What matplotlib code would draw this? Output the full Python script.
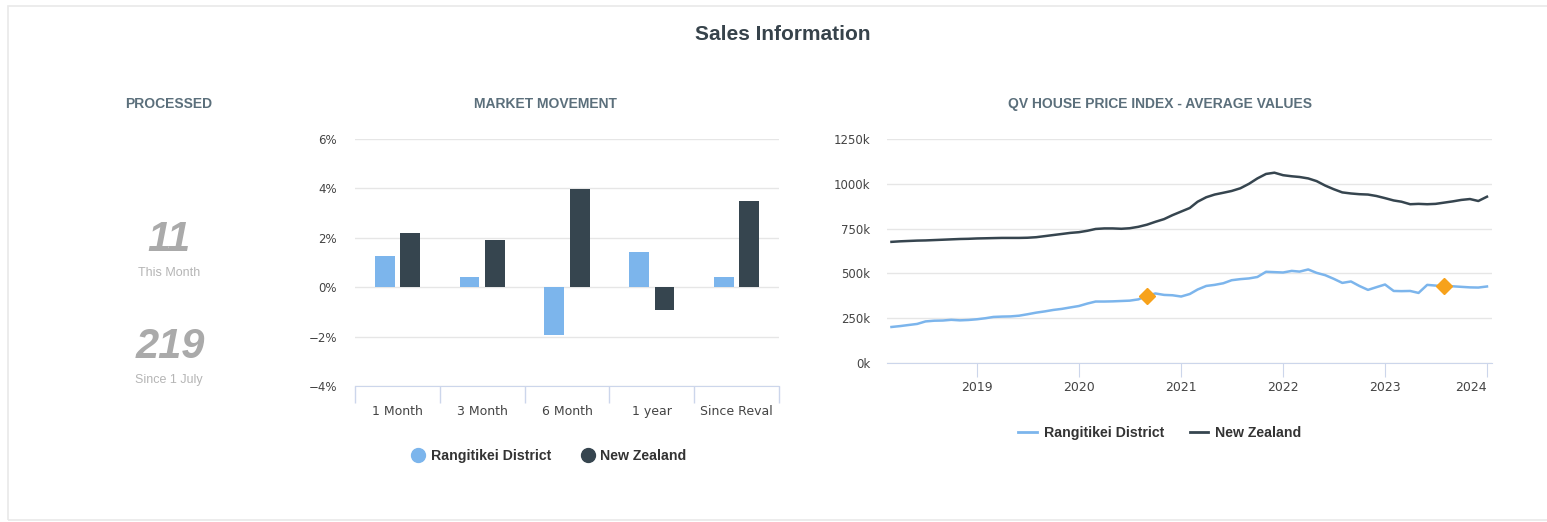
import pandas as pd
import matplotlib.pyplot as plt
from matplotlib.lines import Line2D
from matplotlib.patches import Rectangle

# ---- data ----
periods = ['1 Month', '3 Month', '6 Month', '1 year', 'Since Reval']
district_move = [1.26, 0.42, -1.95, 1.44, 0.42]
nz_move = [2.19, 1.91, 3.99, -0.93, 3.48]

processed_month = '11'
processed_year = '219'

months = pd.date_range('2018-03-01', '2024-01-01', freq='MS')
district_values = [
    201, 206, 212, 218, 232, 236, 237, 241, 238, 240,
    244, 250, 257, 259, 260, 264, 272, 281, 288, 296, 302, 310,
    318, 332, 343, 343, 344, 346, 348, 355, 375, 388, 380, 378,
    371, 385, 410, 430, 436, 445, 462, 468, 472, 480, 509, 507,
    505, 514, 510, 522, 503, 490, 470, 447, 455, 430, 408, 423,
    438, 402, 401, 402, 391, 436, 432, 427, 428, 425, 422, 421,
    427,
]
nz_values = [
    676, 679, 681, 683, 684, 686, 688, 690, 692, 693,
    695, 696, 697, 698, 698, 698, 699, 702, 708, 714, 720, 726,
    730, 738, 748, 751, 751, 749, 752, 760, 772, 788, 803, 825,
    845, 865, 900, 925, 940, 950, 960, 975, 1000, 1030, 1055, 1062,
    1048, 1042, 1038, 1030, 1015, 990, 970, 952, 946, 942, 940, 932,
    920, 907, 900, 886, 888, 886, 888, 895, 902, 910, 915, 904,
    928,
]
reval_dates = pd.to_datetime(['2020-09-01', '2023-08-01'])
reval_values = [375, 427]
years = ['2019', '2020', '2021', '2022', '2023', '2024']

light = '#7cb5ec'
dark = '#36454f'
sub_col = '#5b6f7b'
grid_col = '#e6e6e6'
axis_col = '#ccd6eb'

W, H = 1547, 522
fig = plt.figure(figsize=(W / 100, H / 100), dpi=100)
fig.patch.set_facecolor('white')

def fx(px):
    return px / W

def fy(py):
    return 1 - py / H

# card border
fig.patches.append(Rectangle((fx(8), fy(520)), fx(1600), fy(6) - fy(520),
                             transform=fig.transFigure, fill=False,
                             edgecolor='#e9e9e9', lw=1.2))

fig.text(fx(783), fy(34), 'Sales Information', ha='center', va='center',
         fontsize=15, fontweight='bold', color='#37434b', family='Liberation Sans')

# ---- processed panel ----
fig.text(fx(169), fy(104), 'PROCESSED', ha='center', va='center', fontsize=10,
         fontweight='bold', color=sub_col, family='Liberation Sans')
fig.text(fx(169), fy(240), processed_month, ha='center', va='center', fontsize=30,
         fontweight='bold', style='italic', color='#aaaaaa', family='Liberation Sans')
fig.text(fx(169), fy(273), 'This Month', ha='center', va='center', fontsize=9,
         color='#b5b5b5', family='Liberation Sans')
fig.text(fx(170), fy(347), processed_year, ha='center', va='center', fontsize=30,
         fontweight='bold', style='italic', color='#aaaaaa', family='Liberation Sans')
fig.text(fx(169), fy(380), 'Since 1 July', ha='center', va='center', fontsize=9,
         color='#b5b5b5', family='Liberation Sans')

legend_font = {'size': 10.2, 'weight': 'bold', 'family': 'Liberation Sans'}

# ---- market movement bars ----
ax1 = fig.add_axes([fx(355), fy(386), fx(779 - 355), fy(139) - fy(386)])
x = list(range(len(periods)))
bw = 0.235
off = 0.15
ax1.bar([i - off for i in x], district_move, width=bw, color=light, zorder=3)
ax1.bar([i + off for i in x], nz_move, width=bw, color=dark, zorder=3)
ax1.set_xlim(-0.5, len(periods) - 0.5)
ax1.set_ylim(-4, 6)
ax1.set_yticks([-4, -2, 0, 2, 4, 6])
ax1.set_yticklabels(['\u22124%', '\u22122%', '0%', '2%', '4%', '6%'])
ax1.set_xticks(x)
ax1.set_xticklabels(periods)
ax1.set_xticks([i - 0.5 for i in range(len(periods) + 1)], minor=True)
ax1.tick_params(axis='x', which='major', length=0, pad=14, labelsize=9, labelcolor='#444444')
ax1.tick_params(axis='x', which='minor', length=12, color=axis_col, width=1)
ax1.tick_params(axis='y', length=0, pad=13, labelsize=8.5, labelcolor='#444444')
ax1.grid(axis='y', color=grid_col, lw=1, zorder=0)
for s in ['top', 'right', 'left']:
    ax1.spines[s].set_visible(False)
ax1.spines['bottom'].set_color(axis_col)
ax1.spines['bottom'].set_zorder(4)
fig.text(fx(545), fy(104), 'MARKET MOVEMENT', ha='center', va='center', fontsize=10,
         fontweight='bold', color=sub_col, family='Liberation Sans')

bar_handles = [Line2D([], [], marker='o', ls='', ms=10, color=light),
               Line2D([], [], marker='o', ls='', ms=10, color=dark)]
fig.legend(bar_handles, ['Rangitikei District', 'New Zealand'], loc='center',
           bbox_to_anchor=(fx(548), fy(456)), ncol=2, frameon=False,
           handletextpad=0.3, columnspacing=2.0, handlelength=1.2,
           prop=legend_font, labelcolor='#333333')

# ---- house price index lines ----
ax2 = fig.add_axes([fx(887), fy(363), fx(1492 - 887), fy(139) - fy(363)])
ax2.plot(months, [v * 1000 for v in district_values], color=light, lw=1.8, zorder=3)
ax2.plot(months, [v * 1000 for v in nz_values], color=dark, lw=1.8, zorder=3)
ax2.plot(reval_dates, [v * 1000 for v in reval_values], ls='', marker='D', ms=8,
         color='#f7a21b', zorder=4)
ax2.set_xlim(pd.Timestamp('2018-02-13'), pd.Timestamp('2024-01-19'))
ax2.set_ylim(0, 1250000)
ax2.set_yticks([0, 250000, 500000, 750000, 1000000, 1250000])
ax2.set_yticklabels(['0k', '250k', '500k', '750k', '1000k', '1250k'])
ax2.set_xticks(pd.to_datetime([y + '-01-01' for y in years]))
ax2.set_xticklabels(years)
ax2.get_xticklabels()[-1].set_ha('right')
ax2.tick_params(axis='x', length=10, color=axis_col, pad=3, labelsize=9, labelcolor='#444444')
ax2.tick_params(axis='y', length=0, pad=12, labelsize=8.5, labelcolor='#444444')
ax2.grid(axis='y', color=grid_col, lw=1, zorder=0)
for s in ['top', 'right', 'left']:
    ax2.spines[s].set_visible(False)
ax2.spines['bottom'].set_color(axis_col)
fig.text(fx(1160), fy(104), 'QV HOUSE PRICE INDEX - AVERAGE VALUES', ha='center',
         va='center', fontsize=10, fontweight='bold', color=sub_col, family='Liberation Sans')

line_handles = [Line2D([], [], color=light, lw=2), Line2D([], [], color=dark, lw=2)]
fig.legend(line_handles, ['Rangitikei District', 'New Zealand'], loc='center',
           bbox_to_anchor=(fx(1160), fy(433)), ncol=2, frameon=False,
           handletextpad=0.5, columnspacing=1.8, handlelength=1.3,
           prop=legend_font, labelcolor='#333333')

fig.savefig('out.png', dpi=100)
